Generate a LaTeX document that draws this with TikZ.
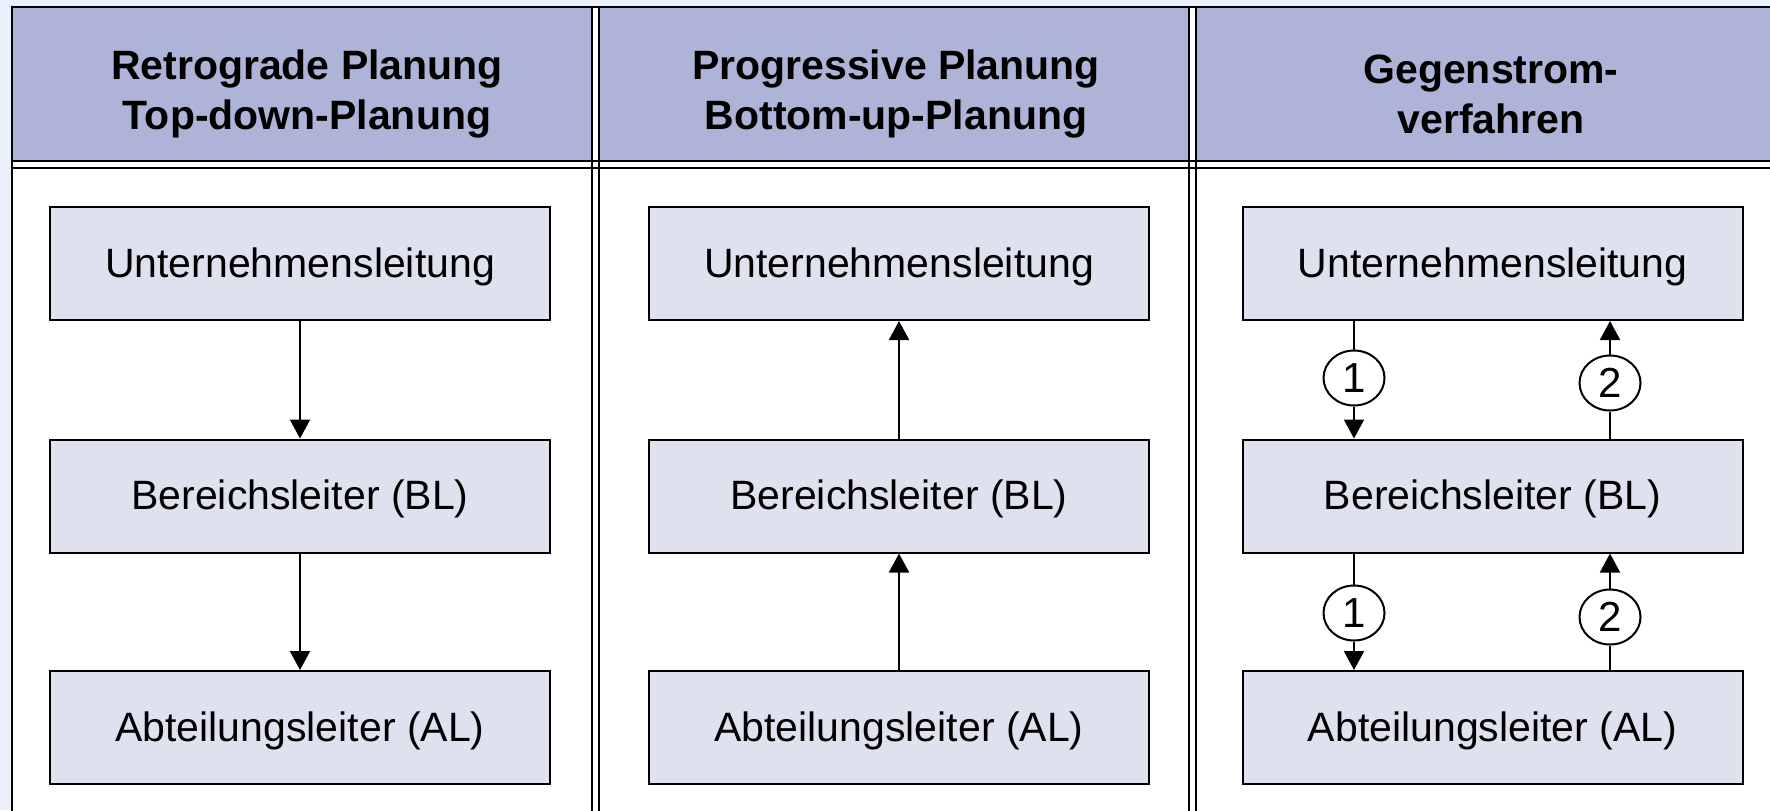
\documentclass[tikz,border=0pt]{standalone}
\usepackage{fontspec}
\setmainfont{Liberation Sans}
\usetikzlibrary{arrows.meta,shapes.geometric}
\definecolor{bgblue}{RGB}{234,241,250}
\definecolor{headfill}{RGB}{174,180,216}
\definecolor{boxfill}{RGB}{223,225,238}
\tikzset{
  frameline/.style={line width=1.1pt,black},
  orgbox/.style={draw=black,line width=1pt,fill=boxfill,minimum width=250pt,minimum height=56.5pt,inner sep=0pt,text height=16.5pt,text depth=2.6pt,font=\fontsize{20.5}{24}\selectfont},
  headtext/.style={align=center,font=\bfseries\fontsize{20.5}{25}\selectfont},
  numcirc/.style={draw=black,line width=1pt,fill=white,ellipse,minimum width=30.5pt,minimum height=27.5pt,inner sep=0pt,font=\fontsize{21}{24}\selectfont},
  arr/.style={line width=1pt,-{Triangle[length=9.5pt,width=10pt]}},
  plainline/.style={line width=1pt}
}
\begin{document}
\begin{tikzpicture}[x=0.5pt,y=-0.5pt]
\useasboundingbox (0,0) rectangle (1770,810);
\fill[bgblue] (0,0) rectangle (1770,810);
\clip (0,0) rectangle (1770,810);
% table body
\fill[white] (12,7) rectangle (1800,830);
\fill[headfill] (12,7) rectangle (592,161);
\fill[headfill] (599,7) rectangle (1189,161);
\fill[headfill] (1196,7) rectangle (1800,161);
\draw[frameline] (12,830) -- (12,7) -- (1800,7);
\draw[frameline] (12,161) -- (1800,161);
\draw[frameline] (12,168) -- (1800,168);
\draw[frameline] (592,7) -- (592,830);
\draw[frameline] (599,7) -- (599,830);
\draw[frameline] (1189,7) -- (1189,830);
\draw[frameline] (1196,7) -- (1196,830);
% headers
\node[headtext] (h1) at (307,94) {Retrograde Planung\\Top-down-Planung};
\node[headtext] (h2) at (896,94) {Progressive Planung\\Bottom-up-Planung};
\node[headtext] (h3) at (1491,94) {Gegenstrom-\\verfahren};
% column 1
\node[orgbox] (u1) at (300,263.5) {Unternehmensleitung};
\node[orgbox] (b1) at (300,496) {Bereichsleiter (BL)};
\node[orgbox] (a1) at (300,727.5) {Abteilungsleiter (AL)};
\draw[arr] (u1) -- (b1);
\draw[arr] (b1) -- (a1);
% column 2
\node[orgbox] (u2) at (899,263.5) {Unternehmensleitung};
\node[orgbox] (b2) at (899,496) {Bereichsleiter (BL)};
\node[orgbox] (a2) at (899,727.5) {Abteilungsleiter (AL)};
\draw[arr] (b2) -- (u2);
\draw[arr] (a2) -- (b2);
% column 3
\node[orgbox] (u3) at (1492.5,263.5) {Unternehmensleitung};
\node[orgbox] (b3) at (1492.5,496) {Bereichsleiter (BL)};
\node[orgbox] (a3) at (1492.5,727.5) {Abteilungsleiter (AL)};
\node[numcirc] (c1t) at (1354,378) {1};
\node[numcirc] (c2t) at (1610,383) {2};
\node[numcirc] (c1b) at (1354,613) {1};
\node[numcirc] (c2b) at (1610,617) {2};
\draw[plainline] (u3.south -| c1t.north) -- (c1t.north);
\draw[arr] (c1t.south) -- (b3.north -| c1t.south);
\draw[plainline] (b3.north -| c2t.south) -- (c2t.south);
\draw[arr] (c2t.north) -- (u3.south -| c2t.north);
\draw[plainline] (b3.south -| c1b.north) -- (c1b.north);
\draw[arr] (c1b.south) -- (a3.north -| c1b.south);
\draw[plainline] (a3.north -| c2b.south) -- (c2b.south);
\draw[arr] (c2b.north) -- (b3.south -| c2b.north);
\end{tikzpicture}
\end{document}
